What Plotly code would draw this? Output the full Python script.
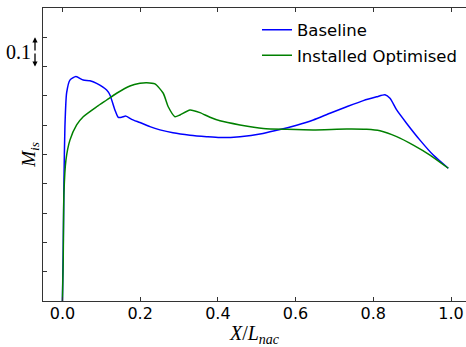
import plotly.graph_objects as go

# Baseline curve
base_x = [0.0, 0.002, 0.004, 0.0064, 0.0108, 0.0193, 0.0347, 0.0535, 0.0708, 0.088, 0.1138,
          0.1223, 0.1351, 0.1436, 0.1524, 0.1634, 0.1781, 0.1995, 0.2252, 0.251, 0.2844,
          0.3282, 0.3712, 0.4054, 0.4569, 0.5161, 0.5598, 0.6028, 0.6456, 0.6885, 0.7315,
          0.7743, 0.8088, 0.8301, 0.843, 0.8602, 0.886, 0.9202, 0.9544, 0.993]
base_y = [0.0, 0.174, 0.413, 0.595, 0.710, 0.754, 0.766, 0.754, 0.752, 0.743, 0.720,
          0.703, 0.652, 0.627, 0.627, 0.631, 0.620, 0.609, 0.595, 0.584, 0.574,
          0.566, 0.561, 0.558, 0.561, 0.572, 0.585, 0.600, 0.618, 0.641, 0.663,
          0.684, 0.697, 0.704, 0.692, 0.652, 0.606, 0.549, 0.498, 0.453]

# Installed optimised curve
opt_x = [0.0, 0.002, 0.0039, 0.009, 0.0193, 0.0366, 0.0535, 0.088, 0.1138, 0.1395, 0.1737,
         0.1995, 0.2167, 0.2381, 0.2595, 0.2723, 0.2896, 0.3024, 0.3282, 0.3539, 0.3797,
         0.4054, 0.4569, 0.5169, 0.5771, 0.6456, 0.7315, 0.783, 0.8172, 0.8602, 0.903,
         0.9459, 0.993]
opt_y = [0.0, 0.140, 0.369, 0.481, 0.549, 0.601, 0.629, 0.663, 0.686, 0.709, 0.734,
         0.743, 0.745, 0.741, 0.709, 0.663, 0.629, 0.635, 0.652, 0.643, 0.627,
         0.615, 0.601, 0.589, 0.586, 0.584, 0.587, 0.586, 0.581, 0.561, 0.532,
         0.498, 0.453]

x_ticks = [0.0, 0.2, 0.4, 0.6, 0.8, 1.0]
x_tick_labels = ["0.0", "0.2", "0.4", "0.6", "0.8", "1.0"]

fig = go.Figure()
fig.add_trace(go.Scatter(x=base_x, y=base_y, mode="lines", name="Baseline",
                         line=dict(color="#0000ff", width=1.5, shape="spline", smoothing=0.6),
                         legendgroup="a"))
fig.add_trace(go.Scatter(x=opt_x, y=opt_y, mode="lines", name="Installed Optimised",
                         line=dict(color="#008000", width=1.5, shape="spline", smoothing=0.6),
                         legendgroup="b"))

W, H = 466, 347
ml, mt, mb = 43, 8, 46
pw = W - ml
x0_px, px_per_unit = 62.5, 388.5
xmax = (W - x0_px) / px_per_unit

fig.update_layout(
    width=W, height=H,
    margin=dict(l=ml, r=0, t=mt, b=mb, autoexpand=False),
    paper_bgcolor="white", plot_bgcolor="white",
    font=dict(family="DejaVu Sans", color="black"),
    showlegend=True,
    legend=dict(x=(257 - ml) / pw, y=(301 - 12.5) / 293, xanchor="left", yanchor="top",
                bgcolor="rgba(0,0,0,0)", borderwidth=0,
                font=dict(family="DejaVu Sans", size=16.5, color="black"),
                tracegroupgap=1, traceorder="grouped"),
    xaxis=dict(range=[-0.05, xmax], tickvals=x_ticks, ticktext=x_tick_labels,
               ticks="inside", ticklen=4, tickcolor="#333333",
               showline=True, linecolor="#333333", linewidth=1, mirror="ticks",
               showgrid=False, zeroline=False, ticklabelstandoff=-2,
               tickfont=dict(family="DejaVu Sans", size=16, color="black"),
               title=dict(text="<i>X</i>/<i>L</i><sub><i>nac</i></sub>",
                          font=dict(family="Liberation Serif", size=20, color="black"),
                          standoff=4)),
    yaxis=dict(range=[0, 1.0], dtick=0.1, tick0=0,
               ticks="inside", ticklen=4, tickcolor="#333333",
               showline=True, linecolor="#333333", linewidth=1, mirror=False,
               showgrid=False, zeroline=False, showticklabels=False,
               title=dict(text="<i>M</i><sub><i>is</i></sub>",
                          font=dict(family="Liberation Serif", size=19, color="black"),
                          standoff=1)),
)

# 0.1 scale marker (paper coords, outside the plot area)
def px_to_paper_x(px):
    return (px - ml) / pw

fig.add_annotation(x=px_to_paper_x(18.5), xref="paper", y=0.85, yref="y", text="0.1",
                   showarrow=False,
                   font=dict(family="Liberation Serif", size=20, color="black"),
                   xanchor="center", yanchor="middle")
half = 0.05 * 293
for yt, ay in [(0.9, half), (0.8, -half)]:
    fig.add_annotation(x=px_to_paper_x(35), xref="paper", y=yt, yref="y",
                       ax=0, ay=ay, axref="pixel", ayref="pixel",
                       text="", showarrow=True, arrowhead=2,
                       arrowsize=0.8, arrowwidth=1.3, arrowcolor="black")

fig.write_html("out.html", config={"displayModeBar": False},
               post_script="document.body.style.margin='0';document.body.style.overflow='hidden';")
